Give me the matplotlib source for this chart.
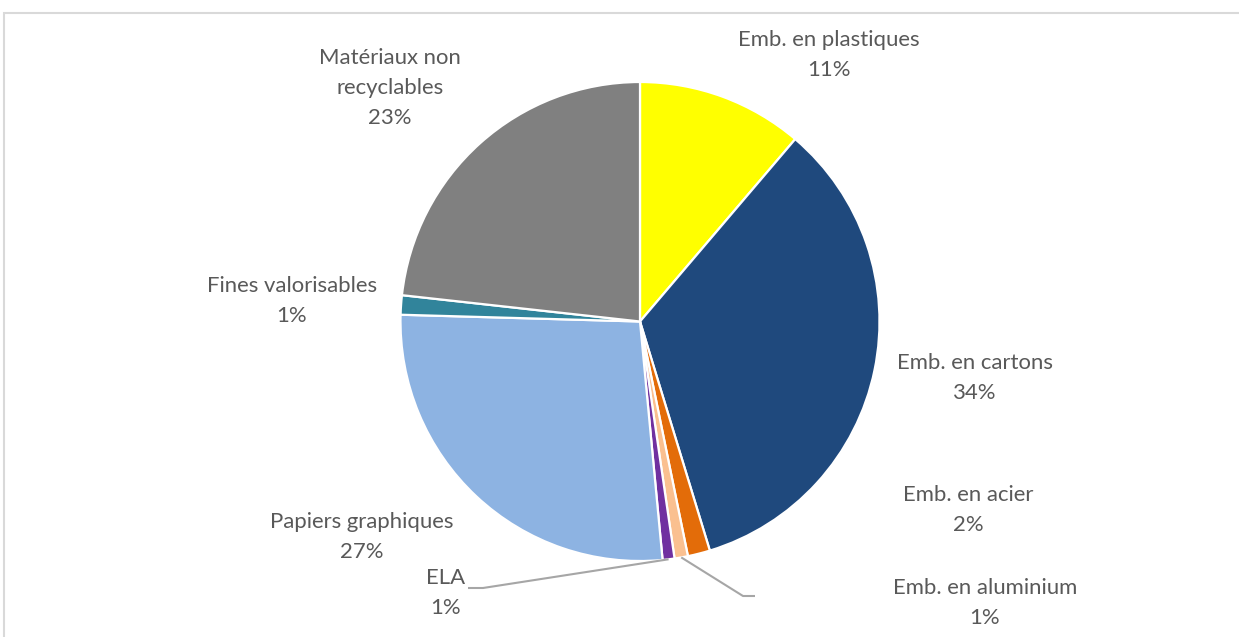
import numpy as np
import matplotlib
matplotlib.use("Agg")
import matplotlib.pyplot as plt
from matplotlib.patches import Rectangle

categories = ["Emb. en plastiques", "Emb. en cartons", "Emb. en acier",
              "Emb. en aluminium", "ELA", "Papiers graphiques",
              "Fines valorisables", "Matériaux non\nrecyclables"]
values = [11.2, 34.0, 1.5, 0.9, 0.8, 26.9, 1.3, 23.2]
pct_labels = ["11%", "34%", "2%", "1%", "1%", "27%", "1%", "23%"]
colors = ["#FFFF00", "#1F497D", "#E36C09", "#FAC090", "#7030A0",
          "#8DB3E2", "#31849B", "#808080"]

W, H = 1239, 637
fig = plt.figure(figsize=(W / 100, H / 100), dpi=100)
ax = fig.add_axes([0, 0, 1, 1])

cx, cy, r = 640, H - 321.5, 239.5
wedges, _ = ax.pie(values, colors=colors, startangle=90, counterclock=False,
                   center=(cx, cy), radius=r,
                   wedgeprops=dict(edgecolor="white", linewidth=1.6))
ax.set_xlim(0, W)
ax.set_ylim(0, H)
ax.set_aspect("equal")
ax.axis("off")

# label text positions (pixel coordinates, top-left origin)
label_pos = [(829, 55), (975, 378), (968, 510), (985, 603),
             (446, 593), (362, 537), (292, 301), (390, 88)]
font = dict(fontsize=15.9, color="#595959", family=["Lato", "DejaVu Sans"],
            ha="center", va="center", linespacing=1.62)
for cat, pct, (x, y) in zip(categories, pct_labels, label_pos):
    ax.text(x, H - y, f"{cat}\n{pct}", **font)

# leader lines for ELA and aluminium
def edge_point(w, frac=1.0):
    ang = np.deg2rad((w.theta1 + w.theta2) / 2)
    return cx + r * frac * np.cos(ang), cy + r * frac * np.sin(ang)

lc = "#A6A6A6"
# ELA (index 4)
px, py = edge_point(wedges[4], 1.0)
ax.plot([468, 483, px], [H - 588, H - 588, py], color=lc, lw=1.5,
        solid_capstyle="butt")
# aluminium (index 3)
px, py = edge_point(wedges[3], 1.0)
ax.plot([px, 743, 755], [py, H - 596, H - 596], color=lc, lw=1.5,
        solid_capstyle="butt")

# outer frame (cropped at right and bottom)
fig.patches.append(Rectangle((4 / W, -0.1), 1.2, (H - 13) / H + 0.1,
                             transform=fig.transFigure, fill=False,
                             edgecolor="#D9D9D9", linewidth=1.5))

fig.savefig("out.png", dpi=100)
